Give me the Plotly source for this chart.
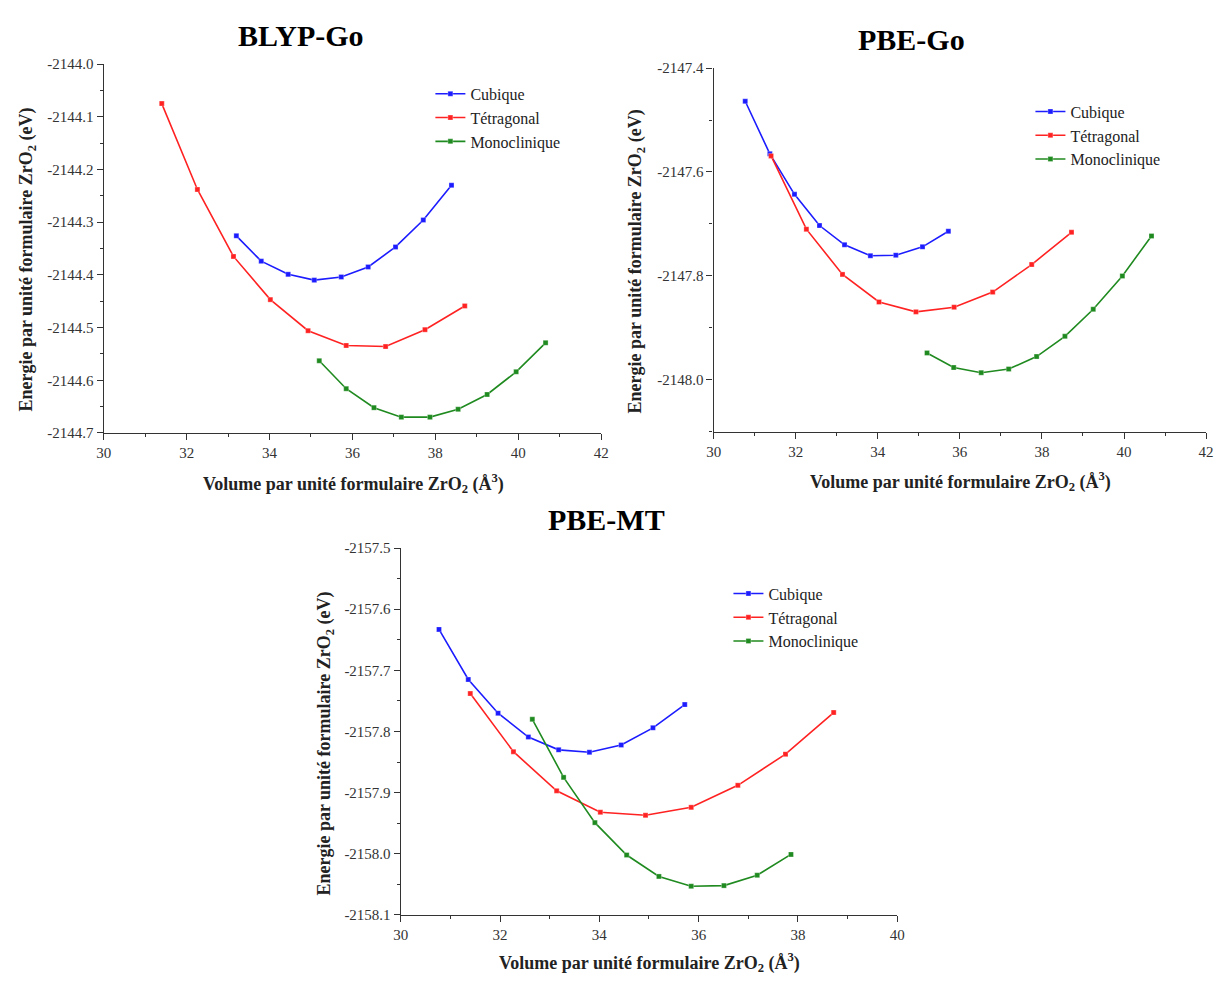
import plotly.graph_objects as go

W, H = 1221, 981

# ---------------- data ----------------
# BLYP-Go
blyp_cub_x = [33.20, 33.80, 34.45, 35.08, 35.73, 36.38, 37.04, 37.71, 38.39]
blyp_cub_y = [-2144.326, -2144.374, -2144.399, -2144.410, -2144.404, -2144.385, -2144.347, -2144.296, -2144.230]
blyp_tet_x = [31.40, 32.26, 33.13, 34.02, 34.93, 35.85, 36.80, 37.75, 38.71]
blyp_tet_y = [-2144.075, -2144.238, -2144.365, -2144.447, -2144.506, -2144.534, -2144.536, -2144.504, -2144.459]
blyp_mon_x = [35.20, 35.85, 36.52, 37.18, 37.87, 38.55, 39.25, 39.95, 40.66]
blyp_mon_y = [-2144.563, -2144.616, -2144.652, -2144.670, -2144.670, -2144.655, -2144.627, -2144.584, -2144.529]

# PBE-Go
pbego_cub_x = [30.77, 31.37, 31.97, 32.58, 33.19, 33.82, 34.44, 35.09, 35.72]
pbego_cub_y = [-2147.464, -2147.565, -2147.643, -2147.703, -2147.740, -2147.761, -2147.760, -2147.744, -2147.714]
pbego_tet_x = [31.40, 32.26, 33.14, 34.03, 34.93, 35.86, 36.80, 37.75, 38.72]
pbego_tet_y = [-2147.569, -2147.710, -2147.797, -2147.850, -2147.869, -2147.860, -2147.831, -2147.778, -2147.716]
pbego_mon_x = [35.20, 35.85, 36.52, 37.19, 37.87, 38.56, 39.25, 39.96, 40.67]
pbego_mon_y = [-2147.948, -2147.976, -2147.986, -2147.979, -2147.955, -2147.916, -2147.864, -2147.800, -2147.723]

# PBE-MT
pbemt_cub_x = [30.77, 31.36, 31.96, 32.57, 33.18, 33.80, 34.44, 35.08, 35.72]
pbemt_cub_y = [-2157.633, -2157.715, -2157.770, -2157.809, -2157.830, -2157.834, -2157.822, -2157.794, -2157.756]
pbemt_tet_x = [31.40, 32.27, 33.14, 34.02, 34.93, 35.85, 36.79, 37.75, 38.72]
pbemt_tet_y = [-2157.738, -2157.833, -2157.897, -2157.932, -2157.937, -2157.924, -2157.888, -2157.837, -2157.769]
pbemt_mon_x = [32.65, 33.28, 33.91, 34.55, 35.20, 35.85, 36.51, 37.18, 37.86]
pbemt_mon_y = [-2157.780, -2157.875, -2157.949, -2158.002, -2158.037, -2158.053, -2158.052, -2158.035, -2158.001]

series_names = ["Cubique", "Tétragonal", "Monoclinique"]
panel_titles = ["BLYP-Go", "PBE-Go", "PBE-MT"]

x_ticks_12 = [30, 32, 34, 36, 38, 40, 42]
x_ticks_10 = [30, 32, 34, 36, 38, 40]
y_ticks_blyp = [-2144.0, -2144.1, -2144.2, -2144.3, -2144.4, -2144.5, -2144.6, -2144.7]
y_ticktext_blyp = ["-2144.0", "-2144.1", "-2144.2", "-2144.3", "-2144.4", "-2144.5", "-2144.6", "-2144.7"]
y_ticks_pbego = [-2147.4, -2147.6, -2147.8, -2148.0]
y_ticktext_pbego = ["-2147.4", "-2147.6", "-2147.8", "-2148.0"]
y_ticks_pbemt = [-2157.5, -2157.6, -2157.7, -2157.8, -2157.9, -2158.0, -2158.1]
y_ticktext_pbemt = ["-2157.5", "-2157.6", "-2157.7", "-2157.8", "-2157.9", "-2158.0", "-2158.1"]

xtitle = "Volume par unité formulaire ZrO<sub>2</sub> (Å<sup>3</sup>)"
ytitle = "Energie par unité formulaire ZrO<sub>2</sub> (eV)"

colors = ["#1c1cff", "#ff2222", "#1f8a1f"]

# ---------------- figure ----------------
fig = go.Figure()

panels = [
    ([(blyp_cub_x, blyp_cub_y), (blyp_tet_x, blyp_tet_y), (blyp_mon_x, blyp_mon_y)], "x", "y", "legend"),
    ([(pbego_cub_x, pbego_cub_y), (pbego_tet_x, pbego_tet_y), (pbego_mon_x, pbego_mon_y)], "x2", "y2", "legend2"),
    ([(pbemt_cub_x, pbemt_cub_y), (pbemt_tet_x, pbemt_tet_y), (pbemt_mon_x, pbemt_mon_y)], "x3", "y3", "legend3"),
]

for series, xa, ya, lg in panels:
    for (xs, ys), name, col in zip(series, series_names, colors):
        fig.add_trace(go.Scatter(
            x=xs, y=ys, name=name, mode="lines+markers",
            xaxis=xa, yaxis=ya, legend=lg,
            line=dict(color=col, width=1.6),
            marker=dict(symbol="square", size=5, color=col,
                        line=dict(color="rgba(255,255,255,0.6)", width=0.5)),
        ))

def px_x(p):
    return p / W

def px_y(p):
    return 1 - p / H

tick_font = dict(family="Liberation Serif", size=15, color="#333333")

axis_common = dict(
    showline=True, linecolor="#333333", linewidth=1.3,
    ticks="outside", ticklen=6, tickwidth=1.2, tickcolor="#333333",
    showgrid=False, zeroline=False, mirror=False,
    tickfont=tick_font,
)

def xaxis(dom, rng, tv, anchor):
    d = dict(axis_common)
    d.update(domain=dom, range=rng, tickvals=tv, ticktext=[str(v) for v in tv],
             anchor=anchor,
             minor=dict(ticks="outside", ticklen=3, tickwidth=1, tickcolor="#333333", dtick=1, showgrid=False))
    return d

def yaxis(dom, rng, tv, tt, anchor, minor_dtick):
    d = dict(axis_common)
    d.update(domain=dom, range=rng, tickvals=tv, ticktext=tt, anchor=anchor,
             minor=dict(ticks="outside", ticklen=3, tickwidth=1, tickcolor="#333333",
                        tick0=tv[0], dtick=minor_dtick, showgrid=False))
    return d

# pixel boxes of plot areas: (left, right, top, bottom)
box1 = (97, 601, 57, 432)
box2 = (715, 1214, 61, 431)
box3 = (398, 901, 549, 922)

def doms(b):
    return [px_x(b[0]), px_x(b[1])], [px_y(b[3]), px_y(b[2])]

dx1, dy1 = doms(box1)
dx2, dy2 = doms(box2)
dx3, dy3 = doms(box3)

fig.update_layout(
    width=W, height=H,
    margin=dict(l=0, r=0, t=0, b=0),
    paper_bgcolor="white", plot_bgcolor="white",
    xaxis=xaxis(dx1, [30, 42], x_ticks_12, "y"),
    yaxis=yaxis(dy1, [-2144.7, -2144.0], y_ticks_blyp, y_ticktext_blyp, "x", 0.05),
    xaxis2=xaxis(dx2, [30, 42], x_ticks_12, "y2"),
    yaxis2=yaxis(dy2, [-2148.1, -2147.4], y_ticks_pbego, y_ticktext_pbego, "x2", 0.1),
    xaxis3=xaxis(dx3, [30, 40], x_ticks_10, "y3"),
    yaxis3=yaxis(dy3, [-2158.1, -2157.5], y_ticks_pbemt, y_ticktext_pbemt, "x3", 0.05),
    showlegend=True,
)

leg_common = dict(xanchor="left", yanchor="top", bgcolor="rgba(0,0,0,0)",
                  font=dict(family="Liberation Serif", size=16, color="#222222"),
                  tracegroupgap=0, itemwidth=30)
fig.update_layout(
    legend=dict(leg_common, x=px_x(428), y=px_y(70)),
    legend2=dict(leg_common, x=px_x(1036), y=px_y(88)),
    legend3=dict(leg_common, x=px_x(730), y=px_y(578)),
)

title_font = dict(family="Liberation Serif", size=30, color="black")
label_font = dict(family="Liberation Serif", size=18, color="#222222")

annotations = []
for txt, cx, cy in zip(panel_titles, [297, 916, 606], [28, 32, 520]):
    annotations.append(dict(text="<b>%s</b>" % txt, x=px_x(cx), y=px_y(cy), xref="paper", yref="paper",
                            showarrow=False, font=title_font, xanchor="center", yanchor="middle"))
for cx, cy in [(350, 483), (965, 481), (650, 970)]:
    annotations.append(dict(text="<b>%s</b>" % xtitle, x=px_x(cx), y=px_y(cy), xref="paper", yref="paper",
                            showarrow=False, font=label_font, xanchor="center", yanchor="middle"))
for cx, cy in [(20, 256), (637, 258), (322, 748)]:
    annotations.append(dict(text="<b>%s</b>" % ytitle, x=px_x(cx), y=px_y(cy), xref="paper", yref="paper",
                            showarrow=False, font=label_font, textangle=-90, xanchor="center", yanchor="middle"))
fig.update_layout(annotations=annotations)

fig.write_html("out.html")
